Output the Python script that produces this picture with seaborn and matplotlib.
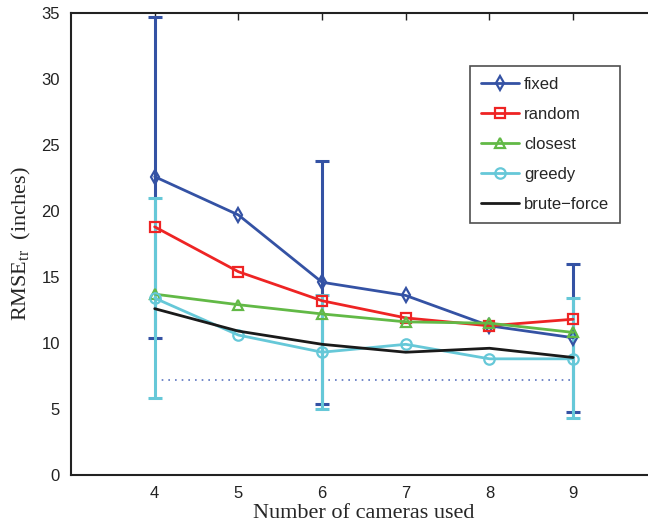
import matplotlib
matplotlib.use("Agg")
import matplotlib.pyplot as plt
import seaborn as sns
import pandas as pd

# Number of cameras on the x axis
cameras = [4, 5, 6, 7, 8, 9]

# Mean RMSE per selection strategy
fixed = [22.6, 19.7, 14.6, 13.6, 11.3, 10.4]
random_sel = [18.8, 15.4, 13.2, 11.9, 11.3, 11.8]
closest = [13.7, 12.9, 12.2, 11.6, 11.5, 10.8]
greedy = [13.4, 10.6, 9.3, 9.9, 8.8, 8.8]
brute_force = [12.6, 10.9, 9.9, 9.3, 9.6, 8.9]

# Error bar extents (shown at 4, 6 and 9 cameras)
err_x = [4, 6, 9]
fixed_lo = [10.4, 5.4, 4.8]
fixed_hi = [34.7, 23.8, 16.0]
greedy_lo = [5.8, 5.0, 4.3]
greedy_hi = [21.0, 13.6, 13.4]

# Reference level (dotted)
ref_level = 7.2

series = ["fixed", "random", "closest", "greedy", "brute\u2212force"]
values = [fixed, random_sel, closest, greedy, brute_force]
colors = ["#3452a4", "#ee2424", "#62b946", "#66c8d8", "#1a1a1a"]
markers = ["d", "s", "^", "o", ""]

rows = []
for name, vals in zip(series, values):
    for c, v in zip(cameras, vals):
        rows.append({"cameras": c, "rmse": v, "method": name})
df = pd.DataFrame(rows)

sns.set_style("white")
plt.rcParams["font.family"] = ["Liberation Sans", "DejaVu Sans"]
plt.rcParams["mathtext.fontset"] = "custom"
plt.rcParams["mathtext.rm"] = "Liberation Serif"
plt.rcParams["mathtext.it"] = "Liberation Serif:italic"

fig = plt.figure(figsize=(6.48, 5.31), dpi=100)
ax = fig.add_axes([0.1096, 0.1055, 0.904, 0.870])

# dotted reference line
ref_df = pd.DataFrame({"cameras": [4, 9], "rmse": [ref_level, ref_level]})
sns.lineplot(data=ref_df, x="cameras", y="rmse", ax=ax, color="#5a74c0",
             linestyle=(0, (1, 3)), lw=1.2, legend=False, zorder=1)

# error bars: fixed first, greedy on top
for lo, hi, col in [(fixed_lo, fixed_hi, colors[0]), (greedy_lo, greedy_hi, colors[3])]:
    mid = [(a + b) / 2 for a, b in zip(lo, hi)]
    half = [(b - a) / 2 for a, b in zip(lo, hi)]
    ax.errorbar(err_x, mid, yerr=half, fmt="none", ecolor=col,
                elinewidth=2.2, capsize=5, capthick=2.2, zorder=2)

for name, col, mk in zip(series, colors, markers):
    sub = df[df["method"] == name]
    sns.lineplot(data=sub, x="cameras", y="rmse", ax=ax, color=col,
                 marker=mk if mk else None, markersize=7.5,
                 markerfacecolor="none", markeredgecolor=col, markeredgewidth=1.6,
                 lw=2.0, label=name, zorder=3)

ax.set_xlim(3, 10)
ax.set_ylim(0, 35)
ax.set_xticks(cameras)
ax.set_yticks(range(0, 36, 5))
ax.tick_params(direction="in", top=True, right=True, length=5, width=1,
               labelsize=12, colors="#222222", pad=8)
for s in ax.spines.values():
    s.set_linewidth(1.5)
    s.set_color("#222222")

ax.set_xlabel("Number of cameras used", fontsize=16,
              family=["Liberation Serif"], labelpad=2)
ax.set_ylabel(r"RMSE$_{\rm tr}$  (inches)", fontsize=16,
              family=["Liberation Serif"], labelpad=6)

leg = ax.legend(loc="upper right", bbox_to_anchor=(0.937, 0.885), fontsize=12,
                frameon=True, fancybox=False, handlelength=2.3,
                labelspacing=0.9, borderpad=0.65, handletextpad=0.3,
                borderaxespad=0)
leg.get_frame().set_edgecolor("#222222")
leg.get_frame().set_linewidth(1.2)

fig.savefig("out.png", dpi=100)
